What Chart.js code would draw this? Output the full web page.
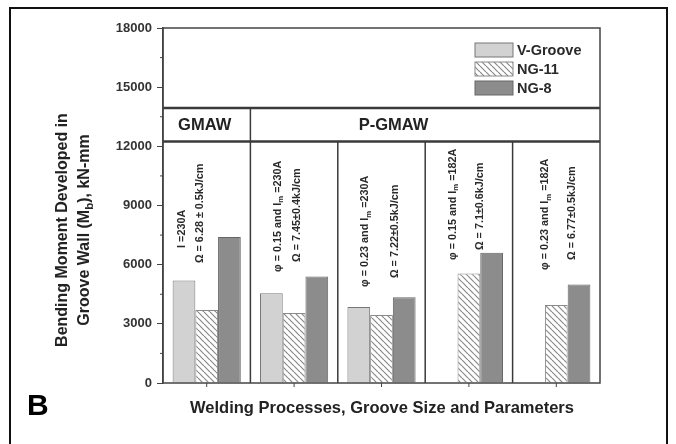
<!DOCTYPE html>
<html>
<head>
<meta charset="utf-8">
<script src="https://cdn.jsdelivr.net/npm/chart.js@4.4.1/dist/chart.umd.min.js"></script>
<style>
  html, body { margin: 0; padding: 0; background: #fff; }
  canvas { display: block; }
</style>
</head>
<body>
<canvas id="bmChart" width="676" height="444"></canvas>
<script>
// values (kN-mm)
const groups = ['GMAW', 'P-GMAW 0.15/230A', 'P-GMAW 0.23/230A', 'P-GMAW 0.15/182A', 'P-GMAW 0.23/182A'];
const vGroove = [5200, 4550, 3850, null, null];
const ng11 = [3700, 3550, 3450, 5550, 3950];
const ng8 = [7400, 5400, 4350, 6600, 5000];
const seriesNames = ['V-Groove', 'NG-11', 'NG-8'];
const yTickValues = [0, 3000, 6000, 9000, 12000, 15000, 18000];
const processNames = ['GMAW', 'P-GMAW'];
const paramLine1 = ['I =230A', 'φ = 0.15 and I_m =230A', 'φ = 0.23 and I_m =230A', 'φ = 0.15 and I_m =182A', 'φ = 0.23 and I_m =182A'];
const paramLine2 = ['Ω = 6.28 ± 0.5kJ/cm', 'Ω = 7.45±0.4kJ/cm', 'Ω = 7.22±0.5kJ/cm', 'Ω = 7.1±0.6kJ/cm', 'Ω = 6.77±0.5kJ/cm'];
const yTitle = ['Bending Moment Developed in', 'Groove Wall (M_b), kN-mm'];
const xTitle = 'Welding Processes, Groove Size and Parameters';
const panelLetter = 'B';

const FONT = '"Liberation Sans", Arial, sans-serif';
Chart.defaults.font.family = FONT;

function makeHatch() {
  const s = 6;
  const c = document.createElement('canvas');
  c.width = s; c.height = s;
  const g = c.getContext('2d');
  g.fillStyle = '#fff';
  g.fillRect(0, 0, s, s);
  g.strokeStyle = '#8a8a8a';
  g.lineWidth = 1.2;
  for (let k = -1; k <= 1; k++) {
    g.beginPath();
    g.moveTo(k * s, 0);
    g.lineTo(k * s + s, s);
    g.stroke();
  }
  return g.createPattern(c, 'repeat');
}

const hatch = makeHatch();
const fills = ['#d2d2d2', hatch, '#8c8c8c'];
const borders = ['#777', '#8a8a8a', '#666'];

// text with "_x" subscripts, drawn from (x, y) to the right
function drawRich(ctx, str, x, y, size, weight) {
  const parts = str.split(/_(\w)/);
  let cx = x;
  parts.forEach((p, i) => {
    const sub = i % 2 === 1;
    ctx.font = `${weight} ${sub ? size * 0.72 : size}px ${FONT}`;
    ctx.fillText(p, cx, sub ? y + size * 0.3 : y);
    cx += ctx.measureText(p).width;
  });
  return cx - x;
}

function richWidth(ctx, str, size, weight) {
  const parts = str.split(/_(\w)/);
  let w = 0;
  parts.forEach((p, i) => {
    const sub = i % 2 === 1;
    ctx.font = `${weight} ${sub ? size * 0.72 : size}px ${FONT}`;
    w += ctx.measureText(p).width;
  });
  return w;
}

const decor = {
  id: 'decor',
  afterDraw(chart) {
    const { ctx, chartArea: a, scales: { x, y } } = chart;
    ctx.save();

    // process band
    const bandTop = y.getPixelForValue(13950);
    const bandBot = y.getPixelForValue(12250);
    const seps = [];
    for (let i = 1; i < groups.length; i++) {
      seps.push((x.getPixelForValue(i - 1) + x.getPixelForValue(i)) / 2);
    }
    ctx.strokeStyle = '#3a3a3a';
    ctx.lineWidth = 1.5;
    seps.forEach((sx, i) => {
      ctx.beginPath();
      ctx.moveTo(sx, a.bottom);
      ctx.lineTo(sx, i === 0 ? bandTop : bandBot);
      ctx.stroke();
    });
    ctx.lineWidth = 2.5;
    [bandTop, bandBot].forEach(by => {
      ctx.beginPath();
      ctx.moveTo(a.left, by);
      ctx.lineTo(a.right, by);
      ctx.stroke();
    });
    ctx.fillStyle = '#222';
    ctx.font = `bold 16.5px ${FONT}`;
    ctx.textAlign = 'center';
    ctx.textBaseline = 'middle';
    const bandMid = (bandTop + bandBot) / 2 + 1;
    ctx.fillText(processNames[0], x.getPixelForValue(0) - 2, bandMid);
    ctx.fillText(processNames[1], x.getPixelForValue(2) + 12, bandMid);

    // frame
    ctx.strokeStyle = '#444';
    ctx.lineWidth = 1.5;
    ctx.strokeRect(a.left, a.top, a.width, a.height);

    // minor y ticks
    ctx.lineWidth = 1;
    for (let v = 1500; v < 18000; v += 3000) {
      const py = y.getPixelForValue(v);
      ctx.beginPath();
      ctx.moveTo(a.left - 3, py);
      ctx.lineTo(a.left, py);
      ctx.stroke();
    }
    // x ticks
    groups.forEach((g, i) => {
      const px = x.getPixelForValue(i);
      ctx.beginPath();
      ctx.moveTo(px, a.bottom);
      ctx.lineTo(px, a.bottom + 4);
      ctx.stroke();
    });

    // legend
    const rowY = [50, 69, 88];
    seriesNames.forEach((name, i) => {
      ctx.fillStyle = fills[i];
      ctx.fillRect(475, rowY[i] - 7, 38, 14);
      ctx.strokeStyle = borders[i];
      ctx.lineWidth = 1;
      ctx.strokeRect(475, rowY[i] - 7, 38, 14);
      ctx.fillStyle = '#2a2a2a';
      ctx.font = `bold 14.5px ${FONT}`;
      ctx.textAlign = 'left';
      ctx.textBaseline = 'middle';
      ctx.fillText(name, 517, rowY[i] + 1);
    });

    // vertical parameter notes
    const dx1 = [-25, -16, -16, -16, -11];
    const dx2 = [-7, 3, 14, 11, 16];
    const base1 = [6850, 5630, 4870, 6240, 5730];
    const base2 = [6080, 6140, 5320, 6740, 6240];
    ctx.fillStyle = '#2a2a2a';
    ctx.textAlign = 'left';
    ctx.textBaseline = 'middle';
    groups.forEach((g, i) => {
      const cx = x.getPixelForValue(i);
      [[paramLine1[i], dx1[i], base1[i]], [paramLine2[i], dx2[i], base2[i]]].forEach(([t, dx, b]) => {
        ctx.save();
        ctx.translate(cx + dx, y.getPixelForValue(b));
        ctx.rotate(-Math.PI / 2);
        drawRich(ctx, t, 0, 0, 10.8, 'bold');
        ctx.restore();
      });
    });

    // y title
    const tx = [63, 85];
    yTitle.forEach((t, i) => {
      const w = richWidth(ctx, t, 16, 'bold');
      ctx.save();
      ctx.translate(tx[i], 230);
      ctx.rotate(-Math.PI / 2);
      ctx.fillStyle = '#222';
      drawRich(ctx, t, -w / 2, 0, 16, 'bold');
      ctx.restore();
    });

    // x title
    ctx.fillStyle = '#222';
    ctx.font = `bold 16.5px ${FONT}`;
    ctx.textAlign = 'center';
    ctx.fillText(xTitle, 382, 408);

    // panel letter
    ctx.fillStyle = '#000';
    ctx.font = `bold 30px ${FONT}`;
    ctx.textAlign = 'left';
    ctx.textBaseline = 'alphabetic';
    ctx.fillText(panelLetter, 27, 415);

    // outer figure border
    ctx.strokeStyle = '#111';
    ctx.lineWidth = 2;
    ctx.strokeRect(10, 8, 657, 460);

    ctx.restore();
  }
};

const ctx = document.getElementById('bmChart').getContext('2d');
new Chart(ctx, {
  type: 'bar',
  data: {
    labels: groups,
    datasets: [vGroove, ng11, ng8].map((d, i) => ({
      label: seriesNames[i],
      data: d,
      backgroundColor: fills[i],
      borderColor: borders[i],
      borderWidth: 1,
      categoryPercentage: 0.78,
      barPercentage: 1.0
    }))
  },
  options: {
    responsive: false,
    animation: false,
    layout: { padding: { left: 0, right: 76, top: 28, bottom: 61 } },
    plugins: {
      legend: { display: false },
      tooltip: { enabled: false }
    },
    scales: {
      x: { type: 'category', display: false },
      y: {
        min: 0,
        max: 18000,
        afterFit: (scale) => { scale.width = 163; },
        afterBuildTicks: (scale) => { scale.ticks = yTickValues.map(v => ({ value: v })); },
        ticks: {
          font: { size: 13, weight: 'bold' },
          color: '#333',
          padding: 5,
          callback: (val) => String(val)
        },
        grid: { drawOnChartArea: false, drawTicks: true, tickLength: 6, color: '#444' },
        border: { display: true, color: '#444', width: 1.5 }
      }
    }
  },
  plugins: [decor]
});
</script>
</body>
</html>
